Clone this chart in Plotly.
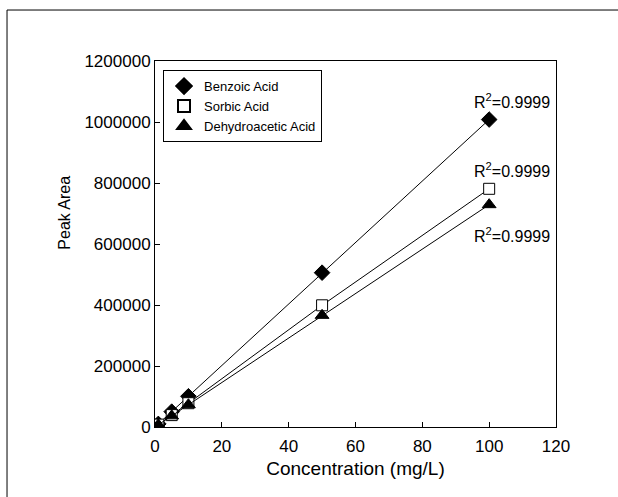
import plotly.graph_objects as go

conc = [1, 5, 10, 50, 100]
benzoic = [10100, 50400, 100800, 506000, 1008000]
sorbic = [7800, 39000, 78000, 399000, 781000]
dehydro = [7300, 36500, 73000, 366000, 729000]
series_names = ["Benzoic Acid", "Sorbic Acid", "Dehydroacetic Acid"]
r2_labels = ["R<sup>2</sup>=0.9999", "R<sup>2</sup>=0.9999", "R<sup>2</sup>=0.9999"]

FONT = "Liberation Sans, Arial, sans-serif"
symbols = ["diamond", "square", "triangle-up"]
fills = ["black", "white", "black"]
sizes = [12, 11, 12]

fig = go.Figure()
for name, ys, sym, fc, sz in zip(series_names, [benzoic, sorbic, dehydro], symbols, fills, sizes):
    fig.add_trace(go.Scatter(x=conc, y=ys, name=name, mode="lines+markers", showlegend=False,
                             line=dict(color="black", width=1),
                             marker=dict(symbol=sym, size=sz, color=fc,
                                         line=dict(color="black", width=1))))
    # legend entry (markers only)
    fig.add_trace(go.Scatter(x=[None], y=[None], name=name, mode="markers",
                             marker=dict(symbol=sym, size=sz, color=fc,
                                         line=dict(color="black", width=1))))

# R² labels
fig.add_annotation(x=conc[-1], y=benzoic[-1], text=r2_labels[0], showarrow=False,
                   xshift=23, yshift=19, font=dict(size=16, color="black", family=FONT))
fig.add_annotation(x=conc[-1], y=sorbic[-1], text=r2_labels[1], showarrow=False,
                   xshift=23, yshift=19, font=dict(size=16, color="black", family=FONT))
fig.add_annotation(x=conc[-1], y=dehydro[-1], text=r2_labels[2], showarrow=False,
                   xshift=23, yshift=-30, font=dict(size=16, color="black", family=FONT))

# y axis title
fig.add_annotation(xref="paper", yref="paper", x=-0.225, y=0.585, text="Peak Area",
                   textangle=-90, showarrow=False, xanchor="center", yanchor="middle",
                   font=dict(size=16, color="black", family=FONT))

# outer frame (top and left edges)
fig.add_shape(type="line", xref="paper", yref="paper", x0=-0.369, x1=1.2, y0=1.1393, y1=1.1393,
              line=dict(color="black", width=1))
fig.add_shape(type="line", xref="paper", yref="paper", x0=-0.369, x1=-0.369, y0=-0.5, y1=1.1393,
              line=dict(color="black", width=1))

fig.update_layout(
    width=618, height=497,
    margin=dict(l=155, r=62, t=61, b=70),
    paper_bgcolor="white", plot_bgcolor="white",
    font=dict(family=FONT, size=16, color="black"),
    showlegend=True,
    legend=dict(x=0.02, y=0.975, xanchor="left", yanchor="top",
                bordercolor="black", borderwidth=1, bgcolor="white",
                font=dict(size=13, family=FONT), itemsizing="constant",
                tracegroupgap=0, itemwidth=30),
    xaxis=dict(range=[0, 120], tickvals=[0, 20, 40, 60, 80, 100, 120],
               ticks="inside", ticklen=5, tickcolor="black",
               showline=True, linecolor="black", linewidth=1, mirror=True,
               showgrid=False, zeroline=False, ticklabelstandoff=4,
               title=dict(text="Concentration (mg/L)", standoff=6),
               tickfont=dict(size=17)),
    yaxis=dict(range=[0, 1200000], tickvals=[0, 200000, 400000, 600000, 800000, 1000000, 1200000],
               ticktext=["0", "200000", "400000", "600000", "800000", "1000000", "1200000"],
               ticks="inside", ticklen=5, tickcolor="black",
               showline=True, linecolor="black", linewidth=1, mirror=True,
               showgrid=False, zeroline=False,
               tickfont=dict(size=17)),
)

fig.write_html("out.html", config={"displayModeBar": False},
               post_script="document.body.style.margin='0';document.body.style.padding='0';")
